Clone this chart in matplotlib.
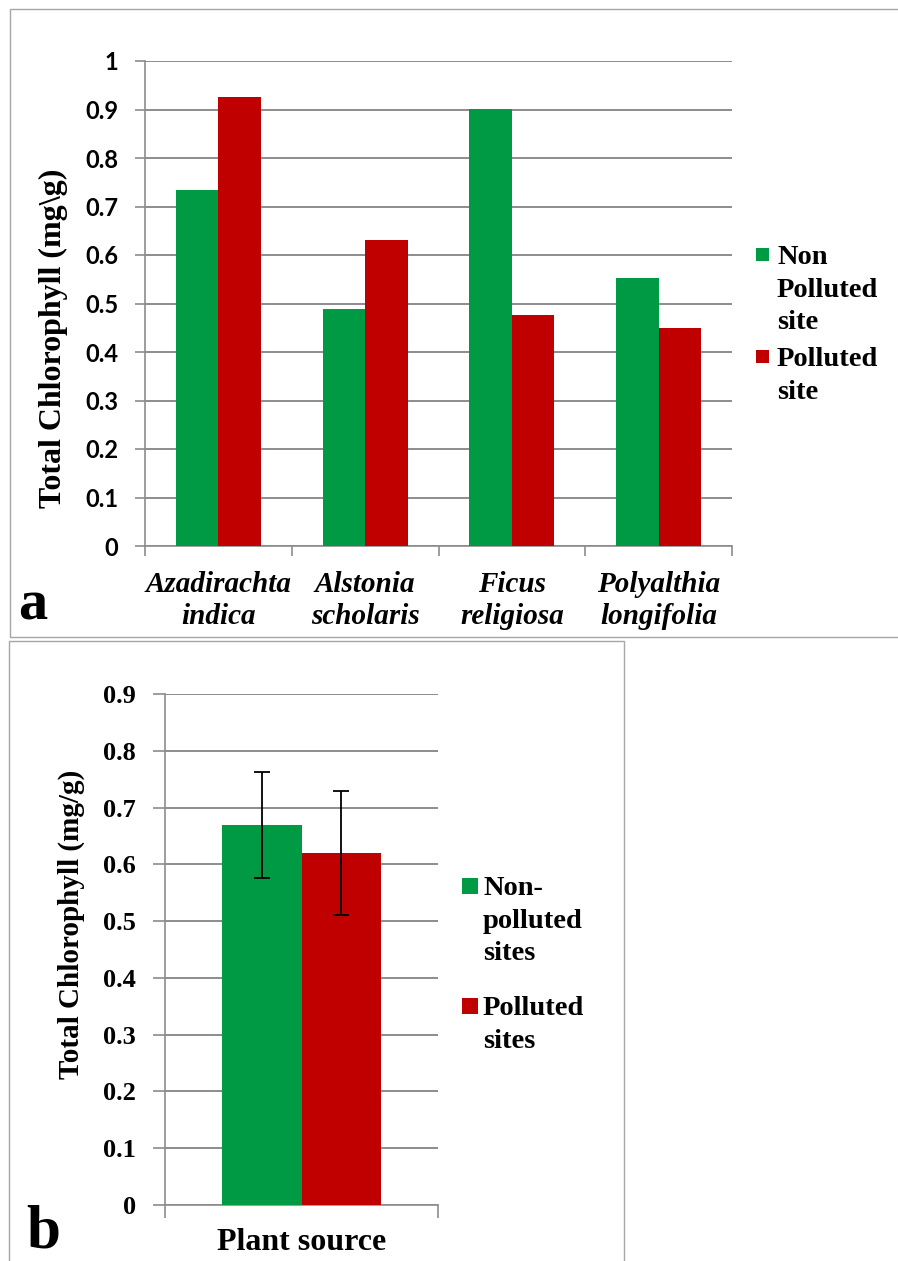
import matplotlib.pyplot as plt
from matplotlib.patches import Rectangle
import numpy as np

plt.rcParams['font.family'] = 'Liberation Serif'
plt.rcParams['font.weight'] = 'bold'

# panel a data
species = ['Azadirachta\nindica', 'Alstonia\nscholaris', 'Ficus\nreligiosa', 'Polyalthia\nlongifolia']
non_polluted = [0.734, 0.489, 0.902, 0.553]
polluted = [0.926, 0.630, 0.476, 0.450]
series_a = ['Non\nPolluted\nsite', 'Polluted\nsite']
yticks_a = [0, 0.1, 0.2, 0.3, 0.4, 0.5, 0.6, 0.7, 0.8, 0.9, 1]

# panel b data
mean_values = [0.669, 0.620]
mean_err = [0.093, 0.109]
series_b = ['Non-\npolluted\nsites', 'Polluted\nsites']
yticks_b = [0, 0.1, 0.2, 0.3, 0.4, 0.5, 0.6, 0.7, 0.8, 0.9]

colors = ['#009944', '#C00000']
grey = '#8c8c8c'

W, H = 898, 1261
fx = lambda px: px / W
fy = lambda py: 1 - py / H

fig = plt.figure(figsize=(W / 100, H / 100), dpi=100)

# panel frames
fig.add_artist(Rectangle((fx(9.5), fy(637)), 1.0, fy(9) - fy(637), transform=fig.transFigure,
                         fill=False, ec='#a6a6a6', lw=1))
fig.add_artist(Rectangle((fx(9), -0.01), fx(624) - fx(9), fy(641.5) + 0.01, transform=fig.transFigure,
                         fill=False, ec='#a6a6a6', lw=1))


def style_axes(ax, ylim, yticks):
    ax.set_ylim(*ylim)
    ax.set_yticks(yticks)
    ax.yaxis.grid(True, color=grey, lw=1.4)
    ax.set_axisbelow(True)
    for s in ['top', 'right']:
        ax.spines[s].set_visible(False)
    for s in ['left', 'bottom']:
        ax.spines[s].set_color(grey)
        ax.spines[s].set_linewidth(1.2)


# ---- panel a ----
ax1 = fig.add_axes([fx(145), fy(546), fx(732) - fx(145), fy(61) - fy(546)])
x = np.arange(len(species))
w = 0.29
ax1.bar(x - w / 2, non_polluted, w, color=colors[0], zorder=3)
ax1.bar(x + w / 2, polluted, w, color=colors[1], zorder=3)
ax1.set_xlim(-0.5, len(species) - 0.5)
style_axes(ax1, (0, 1), yticks_a)
ax1.set_yticklabels([('%g' % v) for v in yticks_a], fontsize=17, fontweight='bold', family='Lato')
ax1.tick_params(axis='both', which='major', color=grey, length=7, width=1.2)
ax1.tick_params(axis='y', pad=12)
ax1.set_xticks(np.arange(len(species) + 1) - 0.5)
ax1.set_xticklabels([])
ax1.set_xticks(x, species, minor=True, fontsize=21, fontstyle='italic', fontweight='bold',
               linespacing=1.26)
ax1.tick_params(axis='x', which='minor', length=0, pad=18)
ax1.set_ylabel('Total Chlorophyll (mg\\g)', fontsize=23, fontweight='bold')
ax1.yaxis.set_label_coords(-0.131, 0.429)

fig.text(fx(18), fy(620), 'a', fontsize=42, fontweight='bold', ha='left', va='baseline')

for i, lab in enumerate(series_a):
    top = [245, 347][i]
    fig.add_artist(Rectangle((fx(756), fy(top + 16)), fx(13), 13 / H, transform=fig.transFigure,
                             color=colors[i], lw=0))
    fig.text(fx(777), fy(top), lab, fontsize=20.5, fontweight='bold', ha='left', va='top',
             linespacing=1.4)

# ---- panel b ----
ax2 = fig.add_axes([fx(165), fy(1205), fx(438) - fx(165), fy(694) - fy(1205)])
ax2.bar([-w / 2], [mean_values[0]], w, yerr=[mean_err[0]], color=colors[0], zorder=3,
        error_kw=dict(ecolor='black', capsize=6, elinewidth=1.3, capthick=1.3))
ax2.bar([w / 2], [mean_values[1]], w, yerr=[mean_err[1]], color=colors[1], zorder=3,
        error_kw=dict(ecolor='black', capsize=6, elinewidth=1.3, capthick=1.3))
ax2.set_xlim(-0.5, 0.5)
style_axes(ax2, (0, 0.9), yticks_b)
ax2.set_yticklabels([('%g' % v) for v in yticks_b], fontsize=19, fontweight='bold')
ax2.tick_params(axis='both', which='major', color=grey, length=9, width=1.2)
ax2.tick_params(axis='y', pad=12)
ax2.set_xticks([-0.5, 0.5])
ax2.set_xticklabels([])
ax2.set_xlabel('Plant source', fontsize=23, fontweight='bold', labelpad=4)
ax2.set_ylabel('Total Chlorophyll (mg/g)', fontsize=21, fontweight='bold')
ax2.yaxis.set_label_coords(-0.293, 0.55)

fig.text(fx(26), fy(1247), 'b', fontsize=44, fontweight='bold', ha='left', va='baseline')

for i, lab in enumerate(series_b):
    top = [876, 996][i]
    fig.add_artist(Rectangle((fx(462), fy(top + 18)), fx(16), 16 / H, transform=fig.transFigure,
                             color=colors[i], lw=0))
    fig.text(fx(483), fy(top), lab, fontsize=20.5, fontweight='bold', ha='left', va='top',
             linespacing=1.4)

fig.savefig('out.png', dpi=100)
